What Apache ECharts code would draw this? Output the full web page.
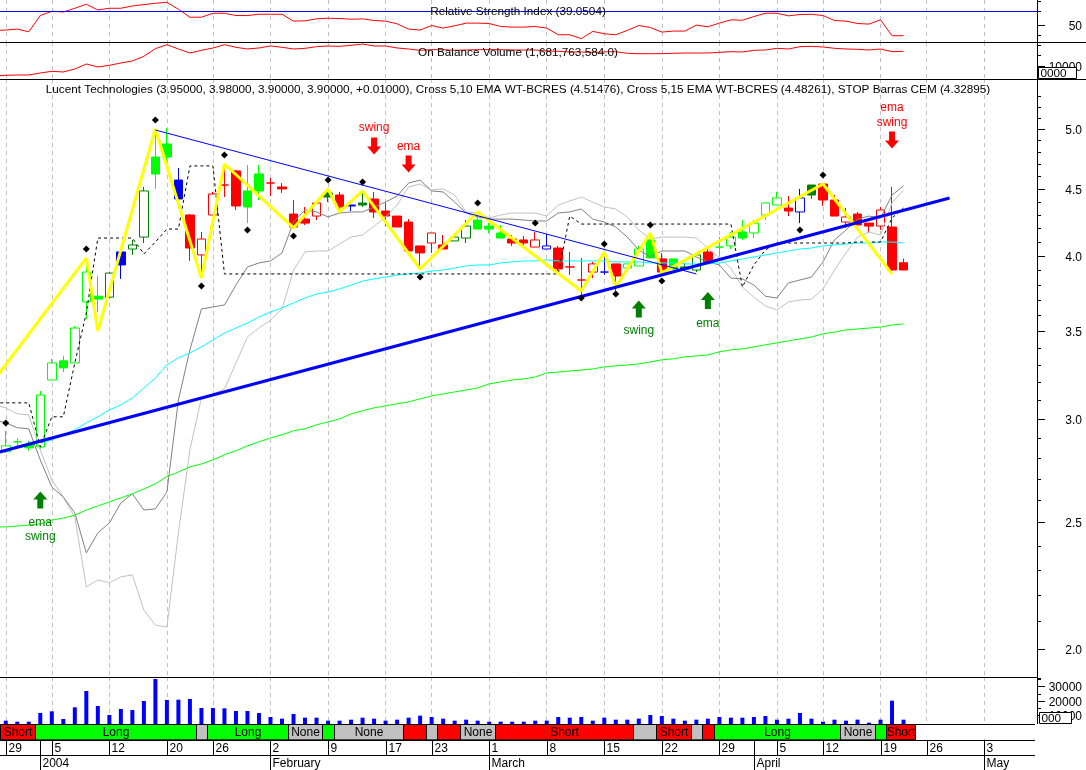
<!DOCTYPE html>
<html>
<head>
<meta charset="utf-8">
<title>Lucent Technologies</title>
<script src="https://cdn.jsdelivr.net/npm/echarts@6/dist/echarts.min.js"></script>
<style>
  html, body { margin: 0; padding: 0; background: #fff; }
  #chart { width: 1086px; height: 770px; }
</style>
</head>
<body>
<div id="chart"></div>
<script>
// trading days, first entry sits just left of the visible range
const dates = ['Dec 26','Dec 29','Dec 30','Dec 31','Jan 2','Jan 5','Jan 6','Jan 7','Jan 8','Jan 9','Jan 12','Jan 13','Jan 14','Jan 15','Jan 16','Jan 20','Jan 21','Jan 22','Jan 23','Jan 26','Jan 27','Jan 28','Jan 29','Jan 30','Feb 2','Feb 3','Feb 4','Feb 5','Feb 6','Feb 9','Feb 10','Feb 11','Feb 12','Feb 13','Feb 17','Feb 18','Feb 19','Feb 20','Feb 23','Feb 24','Feb 25','Feb 26','Feb 27','Mar 1','Mar 2','Mar 3','Mar 4','Mar 5','Mar 8','Mar 9','Mar 10','Mar 11','Mar 12','Mar 15','Mar 16','Mar 17','Mar 18','Mar 19','Mar 22','Mar 23','Mar 24','Mar 25','Mar 26','Mar 29','Mar 30','Mar 31','Apr 1','Apr 2','Apr 5','Apr 6','Apr 7','Apr 8','Apr 12','Apr 13','Apr 14','Apr 15','Apr 16','Apr 19','Apr 20','Apr 21','Apr 22','Apr 26','Apr 27','Apr 28','Apr 29','Apr 30','May 3','May 4','May 5','May 6','May 7','May 10'];
const weekStarts = [1,5,10,15,19,24,29,34,38,43,48,53,58,63,68,72,77,81,86];
const monthStarts = [4,24,43,66,86];
const monthLabels = ['2004','February','March','April','May'];

// candles, one entry per bar starting Dec 29
const opens = [2.831,2.881,2.866,2.856,3.213,3.323,3.311,3.687,3.724,3.718,
  4.026,4.047,4.133,4.759,4.870,4.570,4.297,4.005,4.297,4.530,
  4.644,4.483,4.619,4.546,4.515,4.304,4.266,4.289,4.467,4.451,
  4.373,4.389,4.420,4.327,4.289,4.244,4.069,4.090,4.076,4.105,
  4.126,4.259,4.214,4.163,4.119,4.112,4.061,4.047,4.054,3.921,
  3.832,3.886,3.886,3.942,3.914,3.928,4.112,3.977,3.977,3.921,
  3.900,4.026,4.061,4.069,4.170,4.163,4.297,4.373,4.350,4.320,
  4.530,4.538,4.412,4.244,4.304,4.236,4.214,4.207,3.95];
const closes = [2.861,2.881,2.851,3.129,3.311,3.282,3.521,3.886,3.705,3.879,
  3.935,4.076,4.483,4.619,4.759,4.420,4.054,4.119,4.459,4.530,
  4.366,4.358,4.483,4.546,4.499,4.207,4.236,4.389,4.435,4.358,
  4.366,4.373,4.320,4.289,4.207,4.033,4.019,4.163,4.047,4.133,
  4.214,4.192,4.192,4.126,4.090,4.090,4.112,4.069,3.907,3.921,
  3.832,3.942,3.886,3.859,3.942,4.047,3.984,3.886,3.907,3.907,
  4.005,3.956,4.061,4.133,4.126,4.236,4.389,4.428,4.327,4.428,
  4.451,4.412,4.289,4.282,4.222,4.214,4.335,3.900,3.90];
const lows = [2.826,2.856,2.836,2.846,3.213,3.258,3.311,3.577,3.622,3.711,
  3.839,4.005,4.090,4.499,4.709,4.420,3.963,3.880,4.297,4.435,
  4.335,4.236,4.412,4.443,4.467,4.207,4.222,4.259,4.396,4.312,
  4.327,4.358,4.274,4.214,4.207,4.033,3.900,4.019,4.047,4.105,
  4.090,4.192,4.163,4.126,4.069,4.076,4.061,4.047,3.873,3.866,
  3.699,3.845,3.866,3.745,3.900,3.928,3.984,3.886,3.893,3.893,
  3.886,3.956,3.998,4.047,4.112,4.126,4.259,4.373,4.289,4.236,
  4.420,4.366,4.289,4.200,4.222,4.163,4.185,3.873,3.90];
const highs = [2.938,2.901,2.886,3.151,3.335,3.352,3.533,3.935,3.859,3.886,
  4.026,4.112,4.515,4.991,5.008,4.668,4.304,4.170,4.475,4.668,
  4.652,4.693,4.693,4.586,4.546,4.412,4.358,4.389,4.507,4.475,
  4.373,4.467,4.475,4.389,4.289,4.266,4.069,4.163,4.148,4.163,
  4.259,4.297,4.236,4.222,4.148,4.140,4.170,4.155,4.069,4.026,
  3.984,3.956,4.026,3.942,3.942,4.069,4.163,4.019,3.977,3.949,
  4.005,4.061,4.133,4.170,4.259,4.259,4.389,4.475,4.443,4.499,
  4.530,4.538,4.451,4.350,4.320,4.236,4.358,4.515,3.98];
// g bright green, d dark green, b blue, r red
const candleKinds = 'gggggggggdbddggbrrrrrggrrrrrdrbdrrrrrrrddgggrrrbrrrrbrgggrgddrggggggrbdrrrrrrrr';

// indicator lines, first entry is the off-screen bar
const rsiValues = [44.4,44.7,45.7,43.0,59.3,63.6,62.9,66.6,70.6,64.9,66.6,66.6,68.9,70.3,71.6,72.6,65.6,57.6,57.6,61.6,61.6,59.3,59.3,60.6,60.6,60.6,53.7,54.0,56.0,56.6,56.3,55.6,56.0,54.3,53.7,51.0,45.7,44.7,49.3,46.7,49.0,51.7,51.7,51.3,48.3,47.7,47.7,48.3,46.7,40.0,40.0,36.1,43.4,41.0,40.0,44.4,49.3,47.3,42.7,43.7,43.7,49.7,48.0,51.7,55.0,54.6,58.3,61.6,61.6,59.0,60.3,60.6,59.3,54.3,53.7,51.3,50.7,55.0,39.05,39.05];
const rsiLevel = 63.6;
// on balance volume, millions
const obvValues = [1090,1106,1114,1114,1162,1202,1186,1258,1378,1306,1346,1402,1450,1562,1746,1842,1738,1642,1706,1762,1842,1778,1738,1762,1810,1778,1738,1754,1794,1810,1802,1826,1858,1810,1810,1762,1738,1706,1722,1722,1706,1714,1722,1722,1722,1714,1714,1714,1690,1682,1666,1666,1658,1666,1674,1634,1626,1626,1626,1634,1642,1642,1642,1658,1674,1666,1706,1714,1754,1738,1794,1802,1786,1754,1738,1730,1714,1738,1674,1682];
const volumes = [null,6050,5350,5350,11400,12560,7210,15350,26750,16280,10000,14190,13490,19770,35120,20470,20700,21170,14890,14890,14650,12790,12790,11400,8600,7440,10700,8140,8140,6050,6050,6750,8140,7440,6050,6750,8140,9540,8600,7440,6050,6750,6050,5350,5350,5350,5350,6050,6050,8600,8140,8600,6050,8140,6750,6750,7440,10000,9300,7440,6050,6750,7440,8600,8140,8140,8600,9300,6750,7440,11400,7440,5350,6750,6050,6750,4650,6750,20000,6750];
const emaFast = [null,null,null,null,2.876,2.891,2.917,2.943,2.979,3.011,3.048,3.075,3.113,3.168,3.224,3.299,3.341,3.370,3.406,3.448,3.490,3.521,3.552,3.590,3.622,3.648,3.680,3.712,3.739,3.752,3.772,3.798,3.825,3.839,3.852,3.866,3.873,3.880,3.893,3.900,3.914,3.928,3.935,3.935,3.949,3.956,3.963,3.963,3.970,3.963,3.963,3.963,3.963,3.963,3.956,3.956,3.956,3.949,3.949,3.949,3.942,3.942,3.942,3.949,3.963,3.977,3.991,4.005,4.019,4.033,4.047,4.054,4.069,4.076,4.083,4.090,4.090,4.097,4.097,4.090];
const emaSlow = [2.480,2.480,2.484,2.488,2.493,2.510,2.519,2.532,2.555,2.573,2.592,2.610,2.629,2.652,2.676,2.710,2.732,2.757,2.771,2.791,2.816,2.836,2.861,2.881,2.901,2.917,2.938,2.948,2.969,2.984,3.000,3.027,3.043,3.059,3.070,3.081,3.091,3.108,3.124,3.135,3.146,3.157,3.168,3.191,3.202,3.213,3.219,3.230,3.253,3.258,3.264,3.270,3.276,3.288,3.294,3.299,3.305,3.317,3.329,3.335,3.347,3.352,3.358,3.376,3.388,3.394,3.406,3.418,3.430,3.442,3.454,3.466,3.485,3.496,3.509,3.515,3.521,3.527,3.540,3.546];
const bandDark = [2.995,2.979,2.954,2.948,2.791,2.661,2.614,2.542,2.369,2.454,2.497,2.587,2.629,2.555,2.560,2.638,3.102,3.388,3.641,3.654,3.667,3.798,3.921,3.949,3.963,4.019,4.244,4.335,4.320,4.282,4.312,4.320,4.320,4.358,4.396,4.443,4.546,4.570,4.483,4.475,4.396,4.312,4.282,4.266,4.266,4.266,4.259,4.252,4.252,4.312,4.320,4.343,4.266,4.244,4.207,4.133,4.040,3.991,4.033,4.033,4.033,3.991,3.956,3.935,3.845,3.839,3.798,3.724,3.712,3.812,3.832,3.852,3.956,4.112,4.185,4.266,4.289,4.274,4.451,4.522];
const bandLight = [3.075,3.059,3.027,3.021,2.841,2.694,2.614,2.523,2.231,2.259,2.247,2.271,2.279,2.142,2.086,2.079,2.454,2.841,3.113,3.135,3.162,3.311,3.466,3.521,3.571,3.641,3.900,4.026,4.033,4.033,4.083,4.133,4.148,4.214,4.282,4.373,4.515,4.538,4.491,4.499,4.451,4.320,4.312,4.274,4.297,4.312,4.312,4.312,4.289,4.373,4.404,4.435,4.396,4.358,4.343,4.282,4.185,4.119,4.133,4.133,4.133,4.126,4.054,3.984,3.914,3.785,3.718,3.661,3.635,3.687,3.699,3.705,3.772,3.900,4.019,4.133,4.170,4.148,4.389,4.491];
const stopLine = [3.086,3.086,3.086,3.086,2.856,3.011,3.011,3.311,3.616,4.126,4.126,4.126,4.126,4.012,4.097,4.192,4.192,4.685,4.685,4.685,3.873,3.873,3.873,3.873,3.873,3.873,3.873,3.873,3.873,3.873,3.873,3.873,3.873,3.873,3.873,3.873,3.873,3.873,3.873,3.873,3.873,3.873,3.873,3.873,3.873,3.873,3.873,3.873,3.873,3.873,4.289,4.229,4.229,4.229,4.229,4.229,4.229,4.229,4.229,4.229,4.229,4.229,4.229,4.229,4.229,3.785,3.935,4.040,4.090,4.090,4.090,4.090,4.090,4.090,4.090,4.097,4.097,4.097,4.274,4.350];

// swing zigzag and trend lines, bar number then price
const zigBars = [-1,7,8,13,17,19,25,28,29,31,36,41,50,52,53,56,57,71,77];
const zigPrices = [3.213,3.984,3.503,5.000,3.845,4.701,4.200,4.499,4.320,4.483,3.907,4.320,3.758,4.026,3.785,4.163,3.880,4.538,3.873];
const downTrendBars = [13,60];
const downTrendPrices = [4.991,3.873];
const upTrendBars = [-1,82];
const upTrendPrices = [2.823,4.428];
const pivotBars = [0,7,13,17,19,21,25,28,31,36,41,46,50,52,53,56,57,69,71];
const pivotPrices = [2.979,4.047,5.080,3.792,4.776,4.185,4.140,4.570,4.554,3.852,4.389,4.236,3.712,4.083,3.739,4.222,3.825,4.185,4.611];

// buy / sell notes
const sellBars = [32,35,77];
const sellPrices = [4.852,4.701,4.904];
const buyBars = [3,55,61];
const buyPrices = [2.601,3.641,3.696];
const noteBars = [32,35,77,77,3,3,55,61];
const notePrices = [5.018,4.852,5.198,5.064,2.501,2.441,3.509,3.552];
const noteTexts = ['swing','ema','ema','swing','ema','swing','swing','ema'];
const noteColors = ['#ff0000','#ff0000','#ff0000','#ff0000','#008000','#008000','#008000','#008000'];

// long / short strip
const sigStart = [0,3,17,18,25,28,29,35,37,38,40,43,55,57,60,61,62,73,76,77];
const sigEnd = [3,17,18,25,28,29,35,37,38,40,43,55,57,60,61,62,73,76,77,79.5];
const sigLabels = ['Short','Long','','Long','None','','None','','','','None','Short','','Short','','','Long','None','','Short'];
const sigColors = ['r','g','n','g','n','g','n','r','n','r','n','r','n','r','n','r','g','n','g','r'];

// right hand scales
const priceTicks = [1.9,2.0,2.1,2.2,2.3,2.4,2.5,2.6,2.7,2.8,2.9,3.0,3.1,3.2,3.3,3.4,3.5,3.6,3.7,3.8,3.9,4.0,4.1,4.2,4.3,4.4,4.5,4.6,4.7,4.8,4.9,5.0,5.1,5.2,5.3];
const priceLabels = ['','2.0','','','','','2.5','','','','','3.0','','','','','3.5','','','','','4.0','','','','','4.5','','','','','5.0','','',''];
const rsiTicks = [40,50,63.6,73.9];
const rsiTickLabels = ['','50','',''];
const obvTicks = [1842,1602,1322];
const obvTickLabels = ['','','10000'];
const volTicks = [35000,30000,25000,20000,15000,10000];
const volTickLabels = ['','30000','','20000','','10000'];

const FONT = '12px "Liberation Sans", Arial, sans-serif';
const TITLE_FONT = '11.75px "Liberation Sans", Arial, sans-serif';
const KIND_COLORS = { g: '#00ff00', d: '#008000', b: '#0000ff', r: '#ff0000' };
const SIG_COLORS = { g: '#00ff00', r: '#ff0000', n: '#c0c0c0' };
const weekSet = new Set(weekStarts);

// bar number -> slot in a category long array, everything else empty
function sparse(bars, values) {
    const out = dates.map(() => null);
    bars.forEach((b, i) => { out[b + 1] = values[i]; });
    return out;
}

function makeCandles() {
    const items = [{ value: ['-', '-', '-', '-'] }];
    opens.forEach((o, i) => {
        const c = KIND_COLORS[candleKinds[i]];
        const fill = closes[i] > o ? '#fff' : c;
        items.push({
            value: [o, closes[i], lows[i], highs[i]],
            itemStyle: { color: fill, color0: fill, borderColor: c, borderColor0: c, borderColorDoji: c }
        });
    });
    return items;
}

function xAxisFor(gridIndex, showGrid) {
    return {
        type: 'category',
        gridIndex: gridIndex,
        data: dates,
        boundaryGap: false,
        axisLine: { show: false },
        axisTick: { show: false },
        axisLabel: { show: false },
        splitLine: {
            show: showGrid,
            interval: (index) => weekSet.has(index),
            lineStyle: { color: '#c0c0c0', type: [4, 4], width: 1 }
        }
    };
}

function yAxisFor(gridIndex, type, min, max) {
    return {
        type: type,
        gridIndex: gridIndex,
        min: min,
        max: max,
        axisLine: { show: false },
        axisTick: { show: false },
        axisLabel: { show: false },
        splitLine: { show: false }
    };
}

function lineSeries(gridIndex, data, color, width, extra) {
    return Object.assign({
        type: 'line',
        xAxisIndex: gridIndex,
        yAxisIndex: gridIndex,
        data: data,
        symbol: 'none',
        silent: true,
        connectNulls: true,
        lineStyle: { color: color, width: width }
    }, extra || {});
}

// ticks and labels right of the plot, placed through the pane's y scale
function tickSeries(gridIndex, ticks, labels) {
    return {
        type: 'custom',
        xAxisIndex: gridIndex,
        yAxisIndex: gridIndex,
        silent: true,
        z: 20,
        data: ticks.map((v) => [0, v]),
        renderItem: (params, api) => {
            const y = Math.round(api.coord([0, api.value(1)])[1]) + 0.5;
            const label = labels[params.dataIndex];
            const children = [{
                type: 'line',
                shape: { x1: 1037, y1: y, x2: label ? 1045 : 1041, y2: y },
                style: { stroke: '#000', lineWidth: 1 }
            }];
            if (label) {
                children.push({
                    type: 'text',
                    style: { text: label, x: 1082, y: y + 1, textAlign: 'right', textVerticalAlign: 'middle', font: FONT, fill: '#000' }
                });
            }
            return { type: 'group', children: children };
        }
    };
}

// long / short / none strip
function signalSeries() {
    return {
        type: 'custom',
        xAxisIndex: 4,
        yAxisIndex: 4,
        silent: true,
        data: sigStart.map((s, i) => [s, i]),
        renderItem: (params, api) => {
            const i = params.dataIndex;
            const x0 = api.coord([0, 3])[0];
            const w = api.coord([1, 3])[0] - x0;
            const top = api.coord([0, 3])[1];
            const bottom = api.coord([0, 2])[1];
            const left = Math.round(x0 + (sigStart[i] + 0.5) * w) + 0.5;
            const right = Math.round(x0 + (sigEnd[i] + 0.5) * w) + 0.5;
            const children = [{
                type: 'rect',
                shape: { x: left, y: top, width: right - left, height: bottom - top },
                style: { fill: SIG_COLORS[sigColors[i]], stroke: '#000', lineWidth: 1 }
            }];
            if (sigLabels[i]) {
                children.push({
                    type: 'text',
                    style: { text: sigLabels[i], x: (left + right) / 2, y: (top + bottom) / 2 + 1, textAlign: 'center', textVerticalAlign: 'middle', font: FONT, fill: '#000' }
                });
            }
            return { type: 'group', children: children };
        }
    };
}

// week start tick and day number, or month tick and name
function dateSeries(slots, labels, rowTop, rowBottom) {
    return {
        type: 'custom',
        xAxisIndex: 4,
        yAxisIndex: 4,
        silent: true,
        data: slots.map((s) => [s, 0]),
        renderItem: (params, api) => {
            const slot = api.value(0);
            const x = Math.round(api.coord([slot, 0])[0]) + 0.5;
            const top = api.coord([slot, rowTop])[1];
            const bottom = api.coord([slot, rowBottom])[1];
            const textRowTop = api.coord([slot, rowBottom + 1])[1];
            return {
                type: 'group',
                children: [{
                    type: 'line',
                    shape: { x1: x, y1: top, x2: x, y2: bottom },
                    style: { stroke: '#000', lineWidth: 1 }
                }, {
                    type: 'text',
                    style: { text: labels[params.dataIndex], x: x + 2, y: (textRowTop + bottom) / 2 + 1, textVerticalAlign: 'middle', font: FONT, fill: '#000' }
                }]
            };
        }
    };
}

function noteSeries() {
    return {
        type: 'custom',
        xAxisIndex: 2,
        yAxisIndex: 2,
        silent: true,
        z: 6,
        data: noteBars.map((b, i) => [b + 1, notePrices[i]]),
        renderItem: (params, api) => {
            const p = api.coord([api.value(0), api.value(1)]);
            return {
                type: 'text',
                style: { text: noteTexts[params.dataIndex], x: p[0], y: p[1] + 1, textAlign: 'center', textVerticalAlign: 'middle', font: FONT, fill: noteColors[params.dataIndex] }
            };
        }
    };
}

function arrowSeries(bars, prices, path, color) {
    return {
        type: 'scatter',
        xAxisIndex: 2,
        yAxisIndex: 2,
        silent: true,
        symbol: path,
        symbolSize: [14, 17],
        itemStyle: { color: color, opacity: 1 },
        data: bars.map((b, i) => [b + 1, prices[i]]),
        z: 6
    };
}

function hLine(x2, y) {
    return { type: 'line', z: 30, silent: true, shape: { x1: 0, y1: y, x2: x2, y2: y }, style: { stroke: '#000', lineWidth: 1 } };
}

function titleText(text, x, y, align) {
    return { type: 'text', z: 30, silent: true, x: x, y: y, style: { text: text, textAlign: align, textVerticalAlign: 'middle', font: TITLE_FONT, fill: '#000' } };
}

function cornerBox(x, y, w, h, text) {
    return [
        { type: 'rect', shape: { x: x, y: y, width: w, height: h }, silent: true, style: { fill: '#fff', stroke: '#000', lineWidth: 1 } },
        titleText(text, x + 2, y + h / 2 + 1, 'left')
    ].map((el) => Object.assign(el, { z: 31 }));
}

function sadFace(cx, cy) {
    const face = { stroke: '#ff5050', fill: 'none', lineWidth: 1 };
    return {
        type: 'group', z: 30, silent: true, x: cx, y: cy,
        children: [
            { type: 'circle', shape: { cx: 0, cy: 0, r: 7 }, style: face },
            { type: 'circle', shape: { cx: -2.5, cy: -2, r: 0.8 }, style: { fill: '#ff5050' } },
            { type: 'circle', shape: { cx: 2.5, cy: -2, r: 0.8 }, style: { fill: '#ff5050' } },
            { type: 'arc', shape: { cx: 0, cy: 5, r: 4, startAngle: Math.PI * 1.2, endAngle: Math.PI * 1.8 }, style: face }
        ]
    };
}

const chart = echarts.init(document.getElementById('chart'));
const GRID_LEFT = -5.75;
const GRID_WIDTH = 1047.41;
const panes = [[0, 42], [42, 37], [79, 598], [677, 47], [724.5, 46]];

chart.setOption({
    animation: false,
    backgroundColor: '#fff',
    grid: panes.map((p) => ({ left: GRID_LEFT, width: GRID_WIDTH, top: p[0], height: p[1], containLabel: false, outerBoundsMode: 'none' })),
    xAxis: [xAxisFor(0, true), xAxisFor(1, true), xAxisFor(2, true), xAxisFor(3, true), xAxisFor(4, false)],
    yAxis: [
        yAxisFor(0, 'value', 32.74, 74.9),
        yAxisFor(1, 'value', 1017.8, 1905.8),
        yAxisFor(2, 'log', 1.9037, 5.4606),
        yAxisFor(3, 'value', 3722, 36519),
        yAxisFor(4, 'value', 0, 3)
    ],
    graphic: {
        elements: [
            // blank the strip right of the plot, the pane scales live there
            { type: 'rect', z: 10, silent: true, shape: { x: 1037, y: 0, width: 49, height: 770 }, style: { fill: '#fff' } },
            hLine(1086, 42.5), hLine(1086, 79.5), hLine(1037, 677.5), hLine(1035, 740.5), hLine(1035, 755.5), hLine(1035, 724.5),
            { type: 'line', z: 30, silent: true, shape: { x1: 1037.5, y1: 0, x2: 1037.5, y2: 724 }, style: { stroke: '#000', lineWidth: 1 } },
            titleText('Relative Strength Index (39.0504)', 518, 12, 'center'),
            titleText('On Balance Volume (1,681,763,584.0)', 518, 53, 'center'),
            titleText('Lucent Technologies (3.95000, 3.98000, 3.90000, 3.90000, +0.01000), Cross 5,10 EMA WT-BCRES (4.51476), Cross 5,15 EMA WT-BCRES (4.48261), STOP Barras CEM (4.32895)', 518, 90, 'center'),
            ...cornerBox(1038.5, 67.5, 38, 11, '0000'),
            ...cornerBox(1039.5, 712.5, 32, 11, '000'),
            sadFace(1060.5, 756.5)
        ]
    },
    series: [
        lineSeries(0, rsiValues, '#ff0000', 1, {
            markLine: {
                silent: true, symbol: 'none', animation: false,
                label: { show: false },
                lineStyle: { color: '#0000ff', type: 'solid', width: 1 },
                data: [{ yAxis: rsiLevel }]
            }
        }),
        lineSeries(1, obvValues, '#ff0000', 1),
        {
            type: 'bar',
            xAxisIndex: 3,
            yAxisIndex: 3,
            data: volumes,
            barWidth: 4,
            silent: true,
            itemStyle: { color: '#0000ff' }
        },
        {
            type: 'candlestick',
            xAxisIndex: 2,
            yAxisIndex: 2,
            data: makeCandles(),
            barWidth: 9,
            silent: true
        },
        lineSeries(2, bandLight, '#c0c0c0', 1),
        lineSeries(2, bandDark, '#808080', 1),
        lineSeries(2, emaSlow, '#00ff00', 1),
        lineSeries(2, emaFast, '#00ffff', 1),
        lineSeries(2, stopLine, '#000', 1, { lineStyle: { color: '#000', width: 1, type: [3, 3] } }),
        lineSeries(2, sparse(zigBars, zigPrices), '#ffff00', 3),
        lineSeries(2, sparse(downTrendBars, downTrendPrices), '#0000ff', 1),
        lineSeries(2, sparse(upTrendBars, upTrendPrices), '#0000ff', 3),
        {
            type: 'scatter',
            xAxisIndex: 2,
            yAxisIndex: 2,
            silent: true,
            symbol: 'diamond',
            symbolSize: 7,
            itemStyle: { color: '#000', opacity: 1 },
            data: pivotBars.map((b, i) => [b + 1, pivotPrices[i]]),
            z: 5
        },
        arrowSeries(sellBars, sellPrices, 'path://M4 0H10V9H14L7 17L0 9H4Z', '#ff0000'),
        arrowSeries(buyBars, buyPrices, 'path://M7 0L14 8H10V17H4V8H0Z', '#008000'),
        noteSeries(),
        tickSeries(0, rsiTicks, rsiTickLabels),
        tickSeries(1, obvTicks, obvTickLabels),
        tickSeries(2, priceTicks, priceLabels),
        tickSeries(3, volTicks, volTickLabels),
        signalSeries(),
        dateSeries(weekStarts, weekStarts.map((s) => dates[s].split(' ')[1]), 2, 1),
        dateSeries(monthStarts, monthLabels, 2, 0)
    ]
});
</script>
</body>
</html>
